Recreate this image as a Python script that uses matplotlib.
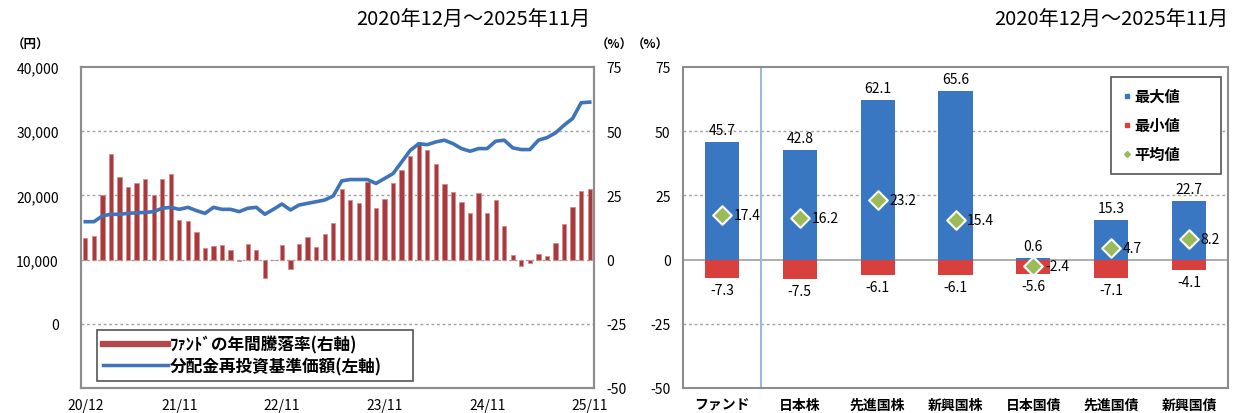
import matplotlib
matplotlib.use("Agg")
import matplotlib.pyplot as plt
from matplotlib.lines import Line2D
import numpy as np

plt.rcParams['font.family'] = ['Noto Sans CJK JP', 'DejaVu Sans']

# ---------------- data ----------------
months = ["20/12", "21/11", "22/11", "23/11", "24/11", "25/11"]
month_idx = [0, 11, 23, 35, 47, 59]

fund_return = [8.4, 9.3, 25.1, 41.2, 32.2, 28.4, 29.9, 31.2, 25.1, 31.4,
               33.2, 15.5, 15.2, 10.6, 4.5, 5.4, 5.8, 3.6, -0.6, 6.2,
               3.6, -7.3, -0.3, 5.8, -3.6, 6.2, 8.8, 4.8, 9.9, 14.2,
               27.3, 23.2, 22.2, 30.3, 20.2, 23.6, 30.0, 34.8, 40.5, 45.7,
               42.5, 37.2, 29.3, 26.5, 22.6, 18.3, 25.8, 18.1, 23.3, 13.2,
               1.7, -2.3, -1.5, 2.2, 1.5, 6.5, 13.8, 20.4, 26.9, 27.4]

nav = [15900, 15900, 16800, 17060, 17060, 17200, 17300, 17350, 17470, 18000,
       18140, 17830, 18140, 17630, 17200, 18140, 17830, 17830, 17470, 18000,
       18140, 17060, 17830, 18660, 17730, 18500, 18760, 19020, 19280, 19900,
       22270, 22470, 22470, 22470, 21860, 22630, 23400, 25200, 27000, 28050,
       27900, 28330, 28600, 28070, 27290, 26880, 27290, 27290, 28440, 28600,
       27400, 27140, 27140, 28600, 29000, 29740, 30940, 31980, 34430, 34530]

categories = ["ファンド", "日本株", "先進国株", "新興国株", "日本国債", "先進国債", "新興国債"]
max_vals = [45.7, 42.8, 62.1, 65.6, 0.6, 15.3, 22.7]
min_vals = [-7.3, -7.5, -6.1, -6.1, -5.6, -7.1, -4.1]
avg_vals = [17.4, 16.2, 23.2, 15.4, -2.4, 4.7, 8.2]

period = "2020年12月～2025年11月"

# ---------------- figure ----------------
W, H = 1236, 414
fig = plt.figure(figsize=(W / 100, H / 100), dpi=100)

def fx(px):
    return px / W

def fy(py):
    return 1 - py / H

frame_col = "#8c8c8c"
grid_col = "#a0a0a0"
TOP, BOT = 68, 389

# ---- left chart ----
ax1 = fig.add_axes([fx(81), fy(BOT), fx(594 - 81), (BOT - TOP) / H])
ax2 = ax1.twinx()

x = np.arange(len(fund_return))
ax2.bar(x, fund_return, width=0.5, color="#A63A3D", edgecolor="#D98A8C",
        linewidth=0.6, zorder=2)
ax2.set_ylim(-50, 75)
ax2.set_yticks([-50, -25, 0, 25, 50, 75])
ax2.set_yticklabels(["-50", "-25", "0", "25", "50", "75"])
for g in [-25, 0, 25, 50]:
    ax2.axhline(g, color=grid_col, linestyle=(0, (2, 2)), linewidth=1.0, zorder=0)

ax1.plot(x, nav, color="#3F74B8", linewidth=2.6, solid_joinstyle="round", zorder=3)
ax1.set_ylim(-10000, 40000)
ax1.set_yticks([0, 10000, 20000, 30000, 40000])
ax1.set_yticklabels(["0", "10,000", "20,000", "30,000", "40,000"])
ax1.set_xlim(-0.5, len(fund_return) - 0.5)
ax1.set_xticks(month_idx)
ax1.set_xticklabels(months)
ax1.set_zorder(ax2.get_zorder() + 1)
ax1.patch.set_visible(False)

for a in (ax1, ax2):
    a.tick_params(length=0, labelsize=10)
    for s in a.spines.values():
        s.set_color(frame_col)
        s.set_linewidth(1.5)
ax1.tick_params(axis="y", pad=16)
ax2.tick_params(axis="y", pad=9)
ax1.tick_params(axis="x", pad=7)

handles = [Line2D([], [], color="#B5474A", linewidth=4.5),
           Line2D([], [], color="#3F74B8", linewidth=2.5)]
labels = ["ﾌｧﾝﾄﾞの年間騰落率(右軸)", "分配金再投資基準価額(左軸)"]
leg = ax1.legend(handles, labels, loc="lower left",
                 bbox_to_anchor=(0.031, 0.022, 0.616, 0.17), mode="expand",
                 borderaxespad=0, fancybox=False, edgecolor="#555555",
                 framealpha=1, handlelength=3.9, handletextpad=0.15,
                 labelspacing=0.2, borderpad=0.35, prop={"size": 12, "weight": "bold"})
leg.get_frame().set_linewidth(1.2)

fig.text(fx(590), fy(20), period, ha="right", va="center", fontsize=14.5)
fig.text(fx(31), fy(45), "（円）", ha="center", va="center", fontsize=9, weight="bold")
fig.text(fx(614), fy(45), "（%）", ha="center", va="center", fontsize=9, weight="bold")

# ---- right chart ----
ax3 = fig.add_axes([fx(683), fy(BOT), fx(1228 - 683), (BOT - TOP) / H])
cx = np.arange(len(categories))
ax3.bar(cx, max_vals, width=0.44, color="#3A77C2", zorder=2)
ax3.bar(cx, min_vals, width=0.44, color="#D8403E", zorder=2)
ax3.scatter(cx, avg_vals, marker="D", s=90, color="#9BBB59", edgecolor="white",
            linewidth=1.5, zorder=4)
ax3.set_ylim(-50, 75)
ax3.set_xlim(-0.5, len(categories) - 0.5)
ax3.set_yticks([-50, -25, 0, 25, 50, 75])
ax3.set_yticklabels(["-50", "-25", "0", "25", "50", "75"])
ax3.set_xticks(cx)
ax3.set_xticklabels(categories, fontsize=10.5, weight="bold")
for g in [-25, 25, 50]:
    ax3.axhline(g, color=grid_col, linestyle=(0, (2, 2)), linewidth=1.0, zorder=0)
ax3.axhline(0, color="#a0a0a0", linewidth=1.2, zorder=1)
ax3.axvline(0.5, color="#9DB8D8", linewidth=1.5, zorder=1)
ax3.tick_params(length=0, labelsize=10)
ax3.tick_params(axis="y", pad=9)
ax3.tick_params(axis="x", pad=7)
for s in ax3.spines.values():
    s.set_color(frame_col)
    s.set_linewidth(1.5)

for i in range(len(categories)):
    ax3.text(cx[i], max(max_vals[i], 0) + 2.0, f"{max_vals[i]:.1f}", ha="center",
             va="bottom", fontsize=10)
    ax3.text(cx[i], min_vals[i] - 2.0, f"{min_vals[i]:.1f}", ha="center",
             va="top", fontsize=10)
    ax3.text(cx[i] + 0.15, avg_vals[i], f"{avg_vals[i]:.1f}", ha="left",
             va="center", fontsize=10)

lh = [Line2D([], [], marker="s", linestyle="none", color="#3A77C2", markersize=3.5),
      Line2D([], [], marker="s", linestyle="none", color="#D8403E", markersize=3.5),
      Line2D([], [], marker="D", linestyle="none", color="#9BBB59", markersize=3)]
leg3 = ax3.legend(lh, ["最大値", "最小値", "平均値"], loc="upper left",
                  bbox_to_anchor=(0.785, 0.97, 0.203, 0.0), mode="expand",
                  borderaxespad=0, fancybox=False,
                  edgecolor="#555555", framealpha=1, handlelength=0.6,
                  handletextpad=0.2, labelspacing=0.85, borderpad=0.75,
                  prop={"size": 11, "weight": "bold"})
leg3.get_frame().set_linewidth(1.2)

fig.text(fx(1228), fy(20), period, ha="right", va="center", fontsize=14.5)
fig.text(fx(650), fy(45), "（%）", ha="center", va="center", fontsize=9, weight="bold")

fig.savefig("out.png", dpi=100)
